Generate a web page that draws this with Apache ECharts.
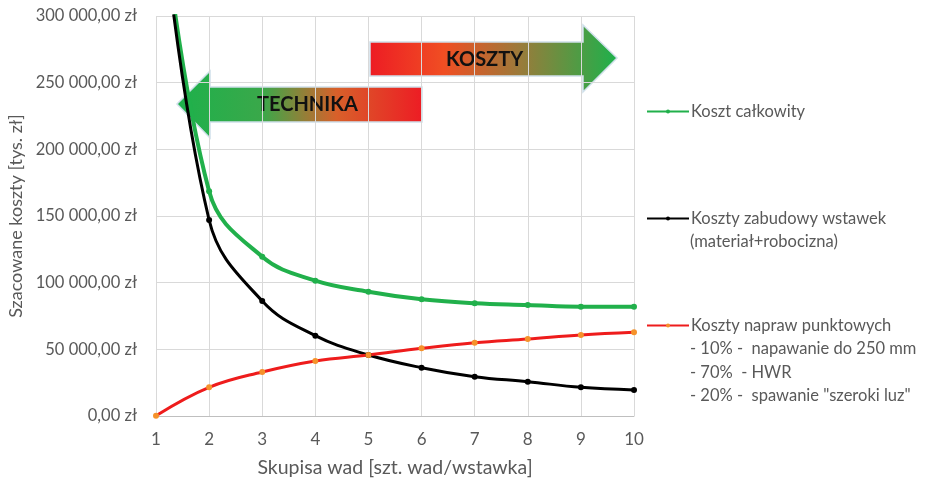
<!DOCTYPE html>
<html><head><meta charset="utf-8">
<script src="https://cdn.jsdelivr.net/npm/echarts@6/dist/echarts.min.js"></script>
<style>html,body{margin:0;padding:0;background:#fff}#c{width:936px;height:484px}</style>
</head><body><div id="c"></div>
<script>
const xValues = [1, 2, 3, 4, 5, 6, 7, 8, 9, 10];
const totalCost = [420250, 168500, 119500, 101500, 93250, 87500, 84500, 83250, 82000, 82000];
const installCost = [420000, 147000, 86250, 60250, 45750, 36250, 29500, 25750, 21500, 19500];
const repairCost = [250, 21500, 33000, 41250, 45750, 50750, 55000, 57750, 60750, 62750];
const seriesNames = ['Koszt całkowity', 'Koszty zabudowy wstawek', 'Koszty napraw punktowych'];
const extraLegendLines = [[], ['(materiał+robocizna)'], ['- 10% -  napawanie do 250 mm', '- 70%  - HWR', '- 20% -  spawanie "szeroki luz"']];
const yTicks = [0, 50000, 100000, 150000, 200000, 250000, 300000];

const FONT = 'Lato, "Open Sans", sans-serif';
const GRAY = '#595959';
function fmt(v){
  const s = Math.round(v).toString().replace(/\B(?=(\d{3})+(?!\d))/g, ' ');
  return s + ',00 zł';
}
const pair = arr => xValues.map((x,i)=>[x, arr[i]]);
const chart = echarts.init(document.getElementById('c'));
const mkSeries = (name, data, color, width, symColor) => ({
  name, type:'line', data: pair(data), smooth:0.4, clip:true,
  symbol:'circle', symbolSize:6,
  lineStyle:{color, width}, itemStyle:{color: symColor, borderWidth:0},
  emphasis:{disabled:true}
});
const legCenters = [111, 218, 325];
function legendAt(name, center){
  return {data:[name], left:641, top:center - 13, orient:'vertical', itemWidth:42, itemHeight:5, itemGap:0,
    textStyle:{fontFamily:FONT, fontSize:16.5, color:GRAY, padding:[0,0,0,-3]}, selectedMode:false};
}
const graphics = [];
extraLegendLines.forEach((lines, k) => {
  lines.forEach((t, j) => {
    graphics.push({type:'text', left:690, top: legCenters[k] + 23.7*(j+1) - 8.5,
      style:{text:t, fontFamily:FONT, fontSize:16.5, fill:GRAY}});
  });
});
// Arrows (annotations)
graphics.push({type:'polygon', shape:{points:[[370,42],[583,42],[583,25],[617,58],[583,92],[583,76],[370,76]]},
  style:{fill:new echarts.graphic.LinearGradient(0,0,1,0,[{offset:0,color:'#ed1c24'},{offset:0.3,color:'#f04e23'},{offset:0.6,color:'#9c7a3a'},{offset:1,color:'#1db14b'}]),
  stroke:'#cfe0ea', lineWidth:1.5}});
graphics.push({type:'text', left:446, top:50, style:{text:'KOSZTY', fontFamily:FONT, fontWeight:'bold', fontSize:20, fill:'#111'}});
graphics.push({type:'polygon', shape:{points:[[422,87],[210,87],[210,71],[177,104],[210,138],[210,122],[422,122]]},
  style:{fill:new echarts.graphic.LinearGradient(0,0,1,0,[{offset:0,color:'#1db14b'},{offset:0.35,color:'#3aa84a'},{offset:0.65,color:'#d8602a'},{offset:1,color:'#ed1c24'}]),
  stroke:'#cfe0ea', lineWidth:1.5}});
graphics.push({type:'text', left:257, top:95, style:{text:'TECHNIKA', fontFamily:FONT, fontWeight:'bold', fontSize:20, fill:'#111'}});

chart.setOption({
  backgroundColor:'#fff',
  animation:false,
  grid:{left:156, right:302, top:16, bottom:68, containLabel:false, outerBoundsMode:'none'},
  xAxis:{type:'value', min:1, max:10, interval:1,
    name:'Skupisa wad [szt. wad/wstawka]', nameLocation:'middle', nameGap:42,
    nameTextStyle:{fontFamily:FONT, fontSize:19.5, color:GRAY},
    axisLine:{lineStyle:{color:'#bfbfbf'}}, axisTick:{show:false},
    axisLabel:{fontFamily:FONT, fontSize:17, color:GRAY, margin:15},
    splitLine:{show:true, lineStyle:{color:'#d9d9d9'}}},
  yAxis:{type:'value', min:yTicks[0], max:yTicks[yTicks.length-1], interval:50000,
    name:'Szacowane koszty [tys. zł]', nameLocation:'middle', nameGap:130,
    nameTextStyle:{fontFamily:FONT, fontSize:18, color:GRAY, padding:[0,0,0,0]},
    axisLine:{show:false}, axisTick:{show:false},
    axisLabel:{fontFamily:FONT, fontSize:16.5, color:GRAY, margin:19, formatter:fmt},
    splitLine:{show:true, lineStyle:{color:'#d9d9d9'}}},
  legend:[legendAt(seriesNames[0], legCenters[0]), legendAt(seriesNames[1], legCenters[1]), legendAt(seriesNames[2], legCenters[2])],
  series:[
    mkSeries(seriesNames[0], totalCost, '#21b04b', 4, '#21b04b'),
    mkSeries(seriesNames[1], installCost, '#000', 3, '#000'),
    mkSeries(seriesNames[2], repairCost, '#ee1c1c', 3, '#f5922b')
  ],
  graphic: graphics
});
</script></body></html>
